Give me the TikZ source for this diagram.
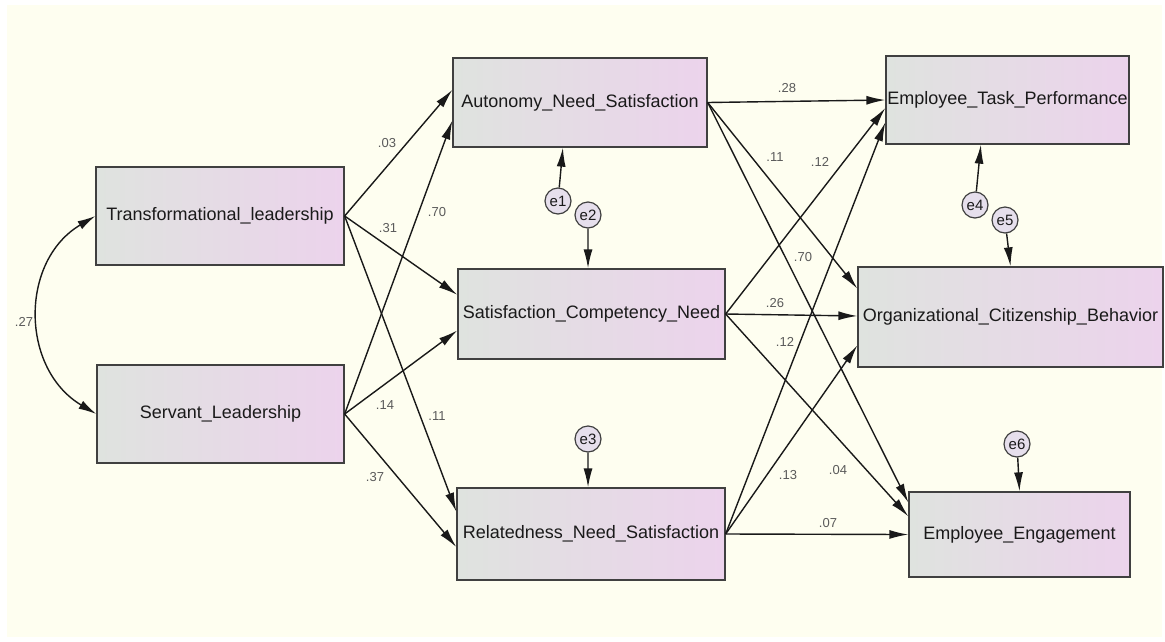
\documentclass[tikz,border=0pt]{standalone}
\usepackage{fontspec}
\setmainfont{Liberation Sans}
\usetikzlibrary{arrows.meta,calc}
\definecolor{paper}{HTML}{FEFEF0}
\definecolor{boxleft}{HTML}{DFE3DF}
\definecolor{boxright}{HTML}{ECD3EC}
\definecolor{errfill}{HTML}{E6DFEC}
\definecolor{coefgray}{HTML}{5A5A5A}
\definecolor{ink}{HTML}{1A1A1A}
\begin{document}
\begin{tikzpicture}[x=1pt,y=-1pt,
  box/.style={draw=black!75, line width=1.3pt, left color=boxleft, right color=boxright, inner sep=0pt},
  boxtext/.style={font=\fontsize{18}{20}\selectfont, text=ink, inner sep=0pt},
  err/.style={circle, draw=black!75, line width=1.2pt, fill=errfill, minimum size=26pt, inner sep=0pt, font=\fontsize{15}{17}\selectfont, text=ink},
  link/.style={line width=1.4pt, draw=black!90, -{Latex[length=19pt,width=9pt]}},
  corr/.style={line width=1.4pt, draw=black!90, {Latex[length=18pt,width=9pt]}-{Latex[length=18pt,width=9pt]}},
  coef/.style={font=\fontsize{13}{15}\selectfont, text=coefgray, inner sep=0pt}
]
\useasboundingbox (0,0) rectangle (1165,641);
\fill[white] (0,0) rectangle (1165,641);
\fill[paper] (7,5) rectangle (1162,637);

% exogenous variables
\node[box, minimum width=248pt, minimum height=98pt, label={[boxtext]center:Transformational\_leadership}] (tl) at (220,216) {};
\node[box, minimum width=247pt, minimum height=98pt, label={[boxtext]center:Servant\_Leadership}] (sl) at (220.5,414) {};

% mediators
\node[box, minimum width=254pt, minimum height=89pt, label={[boxtext]center:Autonomy\_Need\_Satisfaction}] (an) at (580,102.5) {};
\node[box, minimum width=267pt, minimum height=90pt, label={[boxtext]center:Satisfaction\_Competency\_Need}] (sc) at (591.5,314) {};
\node[box, minimum width=268pt, minimum height=92pt, label={[boxtext]center:Relatedness\_Need\_Satisfaction}] (rn) at (591,534) {};

% outcomes
\node[box, minimum width=243pt, minimum height=88pt, label={[boxtext]center:Employee\_Task\_Performance}] (tp) at (1007.5,100) {};
\node[box, minimum width=305pt, minimum height=100pt, label={[boxtext]center:Organizational\_Citizenship\_Behavior}] (ocb) at (1010.5,317) {};
\node[box, minimum width=221pt, minimum height=85pt, label={[boxtext]center:Employee\_Engagement}] (ee) at (1019.5,534.5) {};

% residuals
\node[err] (e1) at (558,201) {e1};
\node[err] (e2) at (588,215) {e2};
\node[err] (e3) at (588,439) {e3};
\node[err] (e4) at (975,205) {e4};
\node[err] (e5) at (1005,220) {e5};
\node[err] (e6) at (1017,444) {e6};

\draw[link] (e1) -- ($(an.south west)!0.433!(an.south east)$);
\draw[link] (e2) -- ($(sc.north west)!0.487!(sc.north east)$);
\draw[link] (e3) -- ($(rn.north west)!0.489!(rn.north east)$);
\draw[link] (e4) -- ($(tp.south west)!0.391!(tp.south east)$);
\draw[link] (e5) -- (ocb.north);
\draw[link] (e6) -- (ee.north);

% covariance between the leadership styles
\draw[corr] (tl.west) .. controls ($(tl.west)+(-76,45)$) and ($(sl.west)+(-76,-45)$) .. (sl.west);

% leadership -> need satisfaction
\draw[link] (tl.east) -- ($(an.north west)!0.36!(an.south west)$);
\draw[link] (sl.east) -- ($(an.north west)!0.70!(an.south west)$);
\draw[link] (tl.east) -- ($(sc.north west)!0.29!(sc.south west)$);
\draw[link] (sl.east) -- ($(sc.north west)!0.68!(sc.south west)$);
\draw[link] (tl.east) -- ($(rn.north west)!0.26!(rn.south west)$);
\draw[link] (sl.east) -- ($(rn.north west)!0.64!(rn.south west)$);

% need satisfaction -> outcomes
\draw[link] (an.east) -- ($(tp.north west)!0.50!(tp.south west)$);
\draw[link] (an.east) -- ($(ocb.north west)!0.22!(ocb.south west)$);
\draw[link] (an.east) -- ($(ee.north west)!0.13!(ee.south west)$);
\draw[link] (sc.east) -- ($(tp.north west)!0.59!(tp.south west)$);
\draw[link] (sc.east) -- ($(ocb.north west)!0.49!(ocb.south west)$);
\draw[link] (sc.east) -- ($(ee.north west)!0.29!(ee.south west)$);
\draw[link] (rn.east) -- ($(tp.north west)!0.75!(tp.south west)$);
\draw[link] (rn.east) -- ($(ocb.north west)!0.78!(ocb.south west)$);
\draw[link] (rn.east) -- (ee.west);

% path coefficients
\node[coef] (c27) at (24,322) {.27};
\node[coef] (c03) at (387,143) {.03};
\node[coef] (c70a) at (437,212) {.70};
\node[coef] (c31) at (388,228) {.31};
\node[coef] (c14) at (385,405) {.14};
\node[coef] (c11a) at (437,416) {.11};
\node[coef] (c37) at (375,477) {.37};
\node[coef] (c28) at (787,88) {.28};
\node[coef] (c11b) at (775,157) {.11};
\node[coef] (c70b) at (803,257) {.70};
\node[coef] (c12a) at (820,162) {.12};
\node[coef] (c26) at (775,303) {.26};
\node[coef] (c04) at (838,470) {.04};
\node[coef] (c12b) at (785,342) {.12};
\node[coef] (c13) at (788,475) {.13};
\node[coef] (c07) at (828,523) {.07};
\end{tikzpicture}
\end{document}
